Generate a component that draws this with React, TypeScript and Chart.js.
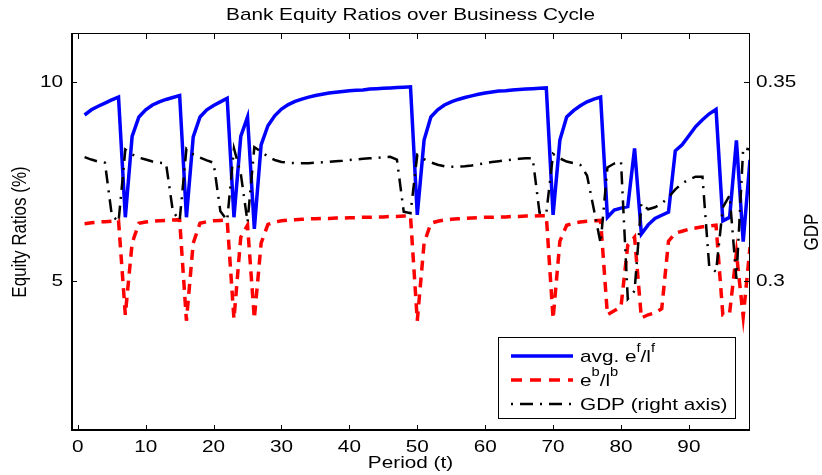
import React, { useEffect, useRef } from "react";
import { Chart, registerables } from "chart.js";

Chart.register(...registerables);

const TITLE = "Bank Equity Ratios over Business Cycle";
const X_LABEL = "Period (t)";
const Y_LABEL = "Equity Ratios (%)";
const Y1_LABEL = "GDP";

const X_TICKS = [0, 10, 20, 30, 40, 50, 60, 70, 80, 90];
const Y_TICKS = [5, 10];
const Y1_TICKS = [0.3, 0.35];
const Y1_TICK_LABELS = ["0.3", "0.35"];

const periods = Array.from({ length: 99 }, (_, i) => i + 1);

const avgEf = [
  9.17, 9.3, 9.39, 9.47, 9.55, 9.62, 6.6, 8.63, 9.12, 9.3,
  9.42, 9.5, 9.56, 9.61, 9.66, 6.6, 8.62, 9.12, 9.3, 9.41,
  9.5, 9.59, 6.6, 8.63, 9.12, 6.31, 8.42, 8.9, 9.15, 9.32,
  9.43, 9.51, 9.57, 9.62, 9.66, 9.69, 9.72, 9.74, 9.76, 9.78,
  9.79, 9.8, 9.82, 9.83, 9.84, 9.85, 9.86, 9.87, 9.88, 6.66,
  8.54, 9.12, 9.3, 9.42, 9.5, 9.56, 9.61, 9.65, 9.69, 9.72,
  9.75, 9.77, 9.78, 9.8, 9.81, 9.82, 9.83, 9.84, 9.85, 6.66,
  8.54, 9.12, 9.28, 9.4, 9.5, 9.57, 9.62, 6.6, 6.78, 6.83,
  6.87, 8.33, 6.18, 6.41, 6.57, 6.65, 6.73, 8.27, 8.42, 8.65,
  8.88, 9.05, 9.2, 9.31, 6.51, 6.6, 8.53, 5.99, 8.04,
];

const ebLb = [
  6.44, 6.46, 6.48, 6.49, 6.5, 6.52, 4.15, 5.95, 6.45, 6.48,
  6.5, 6.51, 6.52, 6.53, 6.54, 4.0, 5.95, 6.45, 6.49, 6.51,
  6.52, 6.53, 4.05, 6.1, 6.4, 4.05, 5.95, 6.42, 6.48, 6.51,
  6.53, 6.54, 6.55, 6.56, 6.56, 6.57, 6.57, 6.58, 6.58, 6.59,
  6.59, 6.6, 6.6, 6.61, 6.61, 6.62, 6.62, 6.63, 6.63, 4.0,
  5.95, 6.45, 6.5, 6.53, 6.55, 6.56, 6.57, 6.58, 6.59, 6.6,
  6.6, 6.61, 6.61, 6.62, 6.62, 6.63, 6.63, 6.64, 6.64, 4.05,
  6.0, 6.4, 6.45, 6.48, 6.5, 6.51, 6.52, 4.15, 4.25, 4.35,
  5.9, 6.1, 4.07, 4.15, 4.2, 4.3, 6.0, 6.2, 6.25, 6.3,
  6.33, 6.36, 6.38, 6.4, 4.15, 4.2, 5.7, 4.1, 5.85,
];

const gdp = [
  0.3311, 0.3305, 0.33, 0.3297, 0.3166, 0.3148, 0.333, 0.3318, 0.331, 0.3305,
  0.33, 0.3297, 0.3295, 0.3175, 0.3152, 0.3332, 0.3318, 0.331, 0.3303, 0.3297,
  0.3175, 0.3152, 0.3333, 0.327, 0.3148, 0.3336, 0.3325, 0.3312, 0.3304, 0.3299,
  0.3297, 0.3296, 0.3296, 0.3296, 0.3297, 0.3298, 0.3299, 0.3301, 0.3302, 0.3304,
  0.3305, 0.3307, 0.3308, 0.3309, 0.3311, 0.3312, 0.3305, 0.3174, 0.317, 0.3317,
  0.3306, 0.3298, 0.3292, 0.3288, 0.3287, 0.3287, 0.3288, 0.329, 0.3293, 0.3296,
  0.3299, 0.3301, 0.3303, 0.3305, 0.3307, 0.3308, 0.3308, 0.3172, 0.317, 0.3319,
  0.3308, 0.33, 0.3296, 0.3292, 0.3265, 0.318, 0.3095, 0.3285, 0.3295, 0.33,
  0.2955, 0.2975, 0.3195, 0.318, 0.3185, 0.3195, 0.321, 0.323, 0.3245, 0.3255,
  0.3262, 0.3262, 0.3035, 0.3023, 0.3185, 0.3215, 0.3005, 0.3334, 0.333,
];

const X_MIN = -1;
const X_MAX = 99;
const Y_MIN = 1.23;
const Y_MAX = 11.23;
const Y1_MIN = 0.2623;
const Y1_MAX = 0.3623;

const FONT = "'Liberation Sans', Arial, Helvetica, sans-serif";
const FS = 17;
const SX = 1.22;

function txt(
  ctx: CanvasRenderingContext2D,
  text: string,
  x: number,
  y: number,
  align: CanvasTextAlign,
  size: number,
  vertical = false
) {
  ctx.save();
  ctx.translate(x, y);
  ctx.scale(SX, 1);
  if (vertical) ctx.rotate(-Math.PI / 2);
  ctx.font = `${size}px ${FONT}`;
  ctx.fillStyle = "#000";
  ctx.textAlign = align;
  ctx.textBaseline = "middle";
  ctx.fillText(text, 0, 0);
  ctx.restore();
}

function tw(ctx: CanvasRenderingContext2D, text: string, size: number) {
  ctx.save();
  ctx.font = `${size}px ${FONT}`;
  const w = ctx.measureText(text).width * SX;
  ctx.restore();
  return w;
}

const framePlugin = {
  id: "matlabFrame",
  afterDatasetsDraw(chart: any) {
    const { ctx, chartArea } = chart;
    const { left, right, top, bottom } = chartArea;
    const xs = chart.scales.x;
    const ys = chart.scales.y;
    const y1s = chart.scales.y1;
    ctx.save();
    ctx.strokeStyle = "#000";
    ctx.lineWidth = 1;
    ctx.beginPath();
    ctx.moveTo(left, top + 0.5);
    ctx.lineTo(right, top + 0.5);
    ctx.moveTo(right - 0.5, top);
    ctx.lineTo(right - 0.5, bottom);
    ctx.stroke();
    ctx.lineWidth = 2;
    ctx.beginPath();
    ctx.moveTo(left + 1, top);
    ctx.lineTo(left + 1, bottom);
    ctx.moveTo(left, bottom - 1);
    ctx.lineTo(right, bottom - 1);
    ctx.stroke();
    ctx.lineWidth = 1;
    const TL = 6;
    ctx.beginPath();
    X_TICKS.forEach((v) => {
      const px = Math.round(xs.getPixelForValue(v)) + 0.5;
      ctx.moveTo(px, bottom);
      ctx.lineTo(px, bottom - TL);
      ctx.moveTo(px, top);
      ctx.lineTo(px, top + TL);
    });
    Y_TICKS.forEach((v) => {
      const py = Math.round(ys.getPixelForValue(v)) + 0.5;
      ctx.moveTo(left, py);
      ctx.lineTo(left + TL, py);
    });
    Y1_TICKS.forEach((v) => {
      const py = Math.round(y1s.getPixelForValue(v)) + 0.5;
      ctx.moveTo(right, py);
      ctx.lineTo(right - TL, py);
    });
    ctx.stroke();

    X_TICKS.forEach((v) => {
      txt(ctx, String(v), xs.getPixelForValue(v), 447, "center", FS);
    });
    Y_TICKS.forEach((v) => {
      txt(ctx, String(v), 63, ys.getPixelForValue(v), "right", FS);
    });
    Y1_TICKS.forEach((v, i) => {
      txt(ctx, Y1_TICK_LABELS[i], 756, y1s.getPixelForValue(v), "left", FS);
    });
    txt(ctx, TITLE, (left + right) / 2, 15, "center", FS);
    txt(ctx, X_LABEL, (left + right) / 2, 463, "center", FS);
    txt(ctx, Y_LABEL, 20, (top + bottom) / 2, "center", FS, true);
    txt(ctx, Y1_LABEL, 812, (top + bottom) / 2, "center", FS, true);

    const bx = 498, by = 337, bw = 237, bh = 81;
    ctx.fillStyle = "#fff";
    ctx.fillRect(bx, by, bw, bh);
    ctx.strokeStyle = "#000";
    ctx.lineWidth = 1;
    ctx.strokeRect(bx + 0.5, by + 0.5, bw, bh);
    const rows = [
      { y: 356, color: "#0000ff", dash: [] as number[], width: 3.5, parts: [["avg. e", 0], ["f", 1], ["/l", 0], ["f", 1]] },
      { y: 380, color: "#ff0000", dash: [11, 8], width: 3.5, parts: [["e", 0], ["b", 1], ["/l", 0], ["b", 1]] },
      { y: 404, color: "#000000", dash: [2, 7, 13, 7], width: 2.5, parts: [["GDP (right axis)", 0]] },
    ];
    rows.forEach((r) => {
      ctx.strokeStyle = r.color;
      ctx.lineWidth = r.width;
      ctx.setLineDash(r.dash);
      ctx.beginPath();
      ctx.moveTo(511, r.y);
      ctx.lineTo(573, r.y);
      ctx.stroke();
      ctx.setLineDash([]);
      let x = 580;
      (r.parts as any[]).forEach(([s, sup]) => {
        const size = sup ? 12 : FS;
        const yy = sup ? r.y - 7 : r.y + 1;
        txt(ctx, s, x, yy, "left", size);
        x += tw(ctx, s, size);
      });
    });
    ctx.restore();
  },
};

export default function App() {
  const ref = useRef<HTMLCanvasElement | null>(null);
  useEffect(() => {
    document.body.style.margin = "0";
    const canvas = ref.current;
    if (!canvas) return;
    const mk = (arr: number[]) => periods.map((t, i) => ({ x: t, y: arr[i] }));
    const hidden = { display: false };
    const chart = new Chart(canvas, {
      type: "line",
      data: {
        datasets: [
          {
            label: "avg. e^f/l^f",
            data: mk(avgEf),
            borderColor: "#0000ff",
            borderWidth: 3.5,
            pointRadius: 0,
            tension: 0,
            yAxisID: "y",
            order: 2,
          },
          {
            label: "e^b/l^b",
            data: mk(ebLb),
            borderColor: "#ff0000",
            borderWidth: 3.5,
            borderDash: [10, 7],
            pointRadius: 0,
            tension: 0,
            yAxisID: "y",
            order: 1,
          },
          {
            label: "GDP (right axis)",
            data: mk(gdp),
            borderColor: "#000000",
            borderWidth: 2.5,
            borderDash: [13, 7, 2, 7],
            pointRadius: 0,
            tension: 0,
            yAxisID: "y1",
            order: 0,
          },
        ],
      },
      options: {
        responsive: false,
        animation: false,
        devicePixelRatio: 1,
        layout: { padding: { top: 33 } },
        plugins: {
          legend: { display: false },
          tooltip: { enabled: false },
          title: { display: false },
        },
        scales: {
          x: {
            type: "linear",
            min: X_MIN,
            max: X_MAX,
            grid: { display: false, drawTicks: false },
            border: { display: false },
            ticks: { display: false },
            title: hidden,
            afterFit: (s: any) => {
              s.height = 44;
            },
          },
          y: {
            type: "linear",
            position: "left",
            min: Y_MIN,
            max: Y_MAX,
            grid: { display: false, drawTicks: false },
            border: { display: false },
            ticks: { display: false },
            title: hidden,
            afterFit: (s: any) => {
              s.width = 71;
            },
          },
          y1: {
            type: "linear",
            position: "right",
            min: Y1_MIN,
            max: Y1_MAX,
            grid: { display: false, drawTicks: false },
            border: { display: false },
            ticks: { display: false },
            title: hidden,
            afterFit: (s: any) => {
              s.width = 72;
            },
          },
        },
      },
      plugins: [framePlugin],
    });
    return () => chart.destroy();
  }, []);
  return (
    <div style={{ width: 822, height: 475, background: "#fff" }}>
      <canvas ref={ref} width={822} height={475} style={{ width: 822, height: 475, display: "block" }} />
    </div>
  );
}
